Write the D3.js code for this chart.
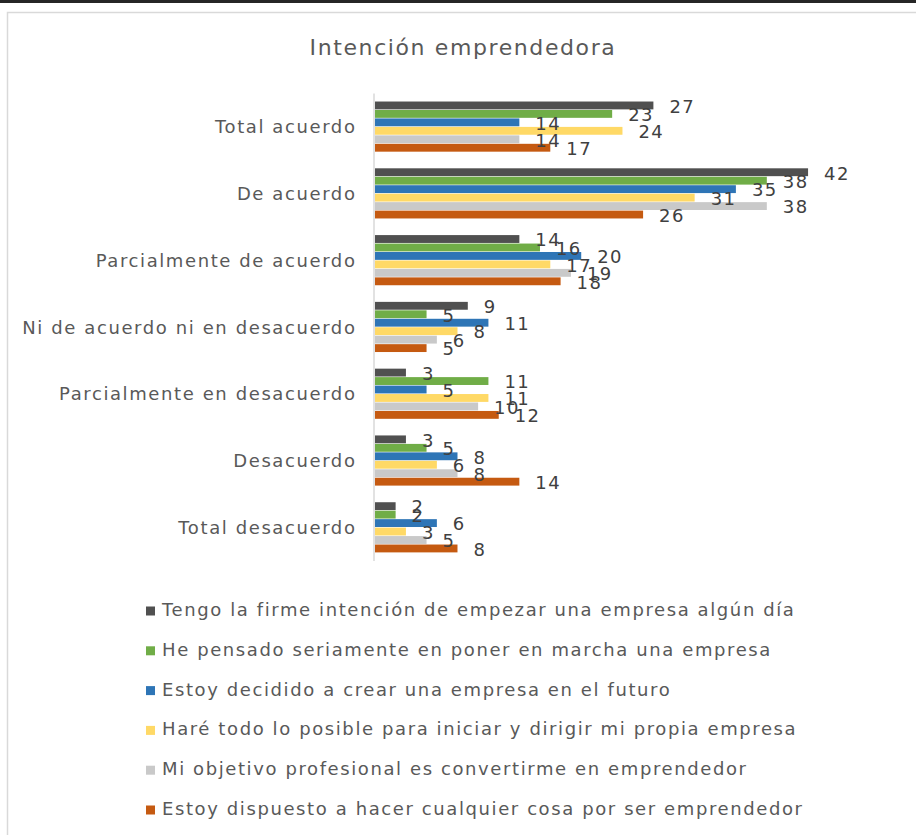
<!DOCTYPE html>
<html>
<head>
<meta charset="utf-8">
<script src="https://cdn.jsdelivr.net/npm/d3@7"></script>
<style>
  html, body { margin: 0; padding: 0; background: #fff; }
  svg text { font-family: "DejaVu Sans", Verdana, sans-serif; }
  .cat { fill: #595959; font-size: 18px; letter-spacing: 1.6px; font-family: "DejaVu Sans"; }
  .value { fill: #404040; font-size: 18px; letter-spacing: 1.4px; font-family: "DejaVu Sans"; }
  .legend text { fill: #595959; font-size: 18px; letter-spacing: 1.6px; font-family: "DejaVu Sans"; }
  .title { fill: #595959; font-size: 22px; letter-spacing: 1.6px; font-family: "DejaVu Sans"; }
</style>
</head>
<body>
<svg id="chart" width="916" height="835"></svg>
<script>
const categories = [
  'Total acuerdo',
  'De acuerdo',
  'Parcialmente de acuerdo',
  'Ni de acuerdo ni en desacuerdo',
  'Parcialmente en desacuerdo',
  'Desacuerdo',
  'Total desacuerdo'
]
const seriesNames = [
  'Tengo la firme intención de empezar una empresa algún día',
  'He pensado seriamente en poner en marcha una empresa',
  'Estoy decidido a crear una empresa en el futuro',
  'Haré todo lo posible para iniciar y dirigir mi propia empresa',
  'Mi objetivo profesional es convertirme en emprendedor',
  'Estoy dispuesto a hacer cualquier cosa por ser emprendedor'
]
const seriesColors = ['#505050', '#70ad47', '#2e75b6', '#ffd966', '#c9c9c9', '#c55a11']
// one array per series, values in category order
const firmeIntencion = [27, 42, 14, 9, 3, 3, 2]
const pensadoSeriamente = [23, 38, 16, 5, 11, 5, 2]
const decidido = [14, 35, 20, 11, 5, 8, 6]
const todoLoPosible = [24, 31, 17, 8, 11, 6, 3]
const objetivoProfesional = [14, 38, 19, 6, 10, 8, 5]
const dispuesto = [17, 26, 18, 5, 12, 14, 8]
const seriesValues = [firmeIntencion, pensadoSeriamente, decidido, todoLoPosible, objetivoProfesional, dispuesto]
const xMax = 45

const svg = d3.select('#chart')

// page strip and chart frame
svg.append('rect').attr('x', 0).attr('y', 0).attr('width', 916).attr('height', 3).attr('fill', '#262626')
svg.append('rect')
  .attr('x', 7.5).attr('y', 12.5).attr('width', 930).attr('height', 840)
  .attr('fill', '#fff').attr('stroke', '#d9d9d9').attr('stroke-width', 1.5)

svg.append('text')
  .attr('class', 'title')
  .attr('x', 463).attr('y', 55)
  .attr('text-anchor', 'middle')
  .text('Intención emprendedora')

const x = d3.scaleLinear().domain([0, xMax]).range([375, 839])
const y = d3.scaleBand()
  .domain(categories)
  .range([93.5, 561])
  .paddingInner(0.24)
  .paddingOuter(0.12)
const ySub = d3.scaleBand()
  .domain(d3.range(seriesNames.length))
  .range([0, y.bandwidth()])

const rows = categories.flatMap((c, i) =>
  seriesValues.map((vals, s) => ({ cat: c, s, value: vals[i] })))

const plot = svg.append('g')

plot.selectAll('.bar')
  .data(rows)
  .join('rect')
  .attr('class', 'bar')
  .attr('x', x(0))
  .attr('y', (d) => y(d.cat) + ySub(d.s))
  .attr('width', (d) => x(d.value) - x(0))
  .attr('height', ySub.bandwidth() - 0.6)
  .attr('fill', (d) => seriesColors[d.s])

plot.selectAll('.value')
  .data(rows)
  .join('text')
  .attr('class', 'value')
  .attr('x', (d) => x(d.value) + 16)
  .attr('y', (d) => y(d.cat) + ySub(d.s) + ySub.bandwidth() / 2 + 2)
  .attr('dominant-baseline', 'middle')
  .text((d) => d.value)

// vertical category axis
const yAxis = svg.append('g')
  .attr('transform', `translate(${x(0) - 1},0)`)
  .call(d3.axisLeft(y).tickSize(0).tickPadding(17.5))
  .attr('font-family', null).attr('font-size', null)
yAxis.select('.domain').attr('stroke', '#d9d9d9').attr('stroke-width', 1.5)
  .attr('d', `M0,${y.range()[0]}V${y.range()[1]}`)
yAxis.selectAll('text').attr('class', 'cat').attr('fill', null).attr('dy', '0.35em')

// legend
const legend = svg.append('g').attr('class', 'legend')
const item = legend.selectAll('g')
  .data(seriesNames)
  .join('g')
  .attr('transform', (d, i) => `translate(146,${611 + i * 39.8})`)
item.append('rect')
  .attr('x', 0).attr('y', -4.5).attr('width', 9).attr('height', 9)
  .attr('fill', (d, i) => seriesColors[i])
item.append('text')
  .attr('x', 16).attr('y', 0)
  .attr('dominant-baseline', 'middle')
  .text((d) => d)
</script>
</body>
</html>
